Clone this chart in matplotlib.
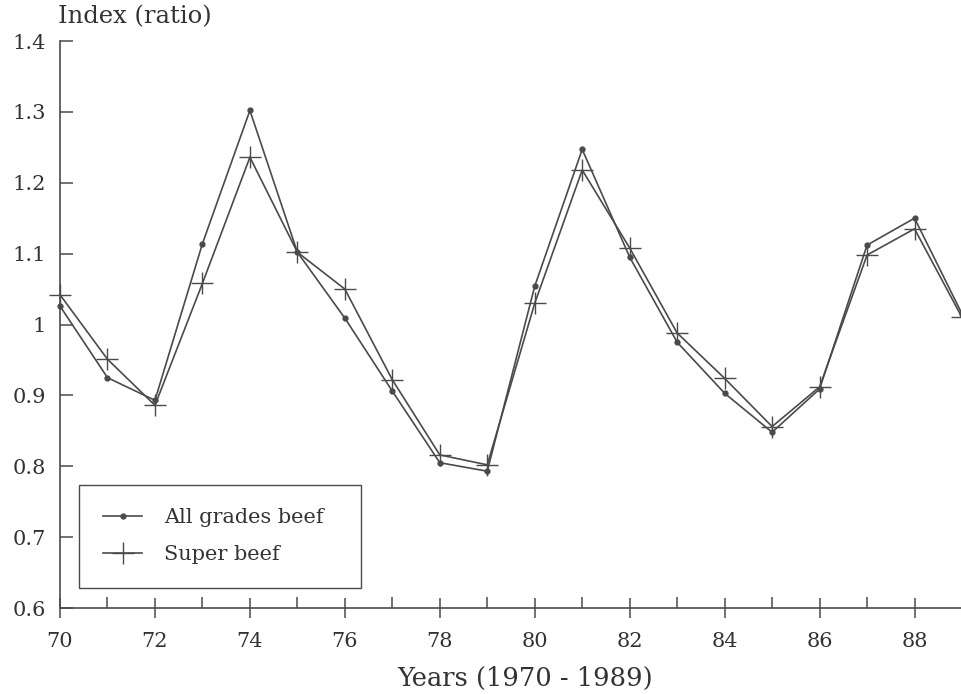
import matplotlib
matplotlib.use("Agg")
import matplotlib.pyplot as plt
from matplotlib.ticker import FixedLocator, FixedFormatter

years = list(range(70, 90))
all_grades = [1.026, 0.925, 0.893, 1.114, 1.302, 1.102, 1.009, 0.906, 0.805, 0.793,
              1.054, 1.247, 1.095, 0.975, 0.903, 0.848, 0.909, 1.112, 1.150, 1.015]
super_beef = [1.042, 0.951, 0.886, 1.058, 1.236, 1.102, 1.050, 0.922, 0.816, 0.802,
              1.030, 1.218, 1.108, 0.988, 0.924, 0.856, 0.912, 1.098, 1.135, 1.010]

y_ticks = [0.6, 0.7, 0.8, 0.9, 1.0, 1.1, 1.2, 1.3, 1.4]
y_tick_labels = ["0.6", "0.7", "0.8", "0.9", "1", "1.1", "1.2", "1.3", "1.4"]
x_major = [70, 72, 74, 76, 78, 80, 82, 84, 86, 88]
x_minor = [71, 73, 75, 77, 79, 81, 83, 85, 87, 89]

plt.rcParams['font.family'] = ['DejaVu Serif']
ink = '#4a4a4a'
txt = '#333333'

fig = plt.figure(figsize=(9.62, 6.94), dpi=100)
ax = fig.add_axes([60/962, 86/694, 902/962, 567/694])

ax.plot(years, all_grades, color=ink, lw=1.2, marker='o', ms=3.5,
        label='All grades beef', clip_on=False)
ax.plot(years, super_beef, color=ink, lw=1.2, marker='+', ms=16, mew=1.0,
        label='Super beef', clip_on=False)

ax.set_xlim(70, 89)
ax.set_ylim(0.6, 1.4)
for s in ['top', 'right']:
    ax.spines[s].set_visible(False)
for s in ['left', 'bottom']:
    ax.spines[s].set_color(ink)
    ax.spines[s].set_linewidth(1.2)

ax.xaxis.set_major_locator(FixedLocator(x_major))
ax.xaxis.set_major_formatter(FixedFormatter([str(v) for v in x_major]))
ax.xaxis.set_minor_locator(FixedLocator(x_minor))
ax.yaxis.set_major_locator(FixedLocator(y_ticks))
ax.yaxis.set_major_formatter(FixedFormatter(y_tick_labels))

ax.tick_params(axis='x', which='major', direction='inout', length=14, width=1.1,
               color=ink, labelsize=15, labelcolor=txt, pad=10)
ax.tick_params(axis='x', which='minor', direction='in', length=8, width=1.1, color=ink)
ax.tick_params(axis='y', which='major', direction='in', length=9, width=1.1,
               color=ink, labelsize=15, labelcolor=txt, pad=10)

fig.text(58/962, 1 - 17/694, 'Index (ratio)', fontsize=17.5, color=txt,
         ha='left', va='center')
fig.text(525/962, 1 - 678/694, 'Years (1970 - 1989)', fontsize=18.5, color=txt,
         ha='center', va='center')

leg = ax.legend(loc='lower left', bbox_to_anchor=(0.021, 0.035, 0.313, 0.178),
                mode='expand', fancybox=False,
                edgecolor=ink, framealpha=1, fontsize=15, handlelength=1.9,
                borderpad=1.15, labelspacing=0.85, handletextpad=1.05, borderaxespad=0)
leg.get_frame().set_linewidth(1.0)
for t in leg.get_texts():
    t.set_color(txt)

fig.savefig('out.png', dpi=100)
